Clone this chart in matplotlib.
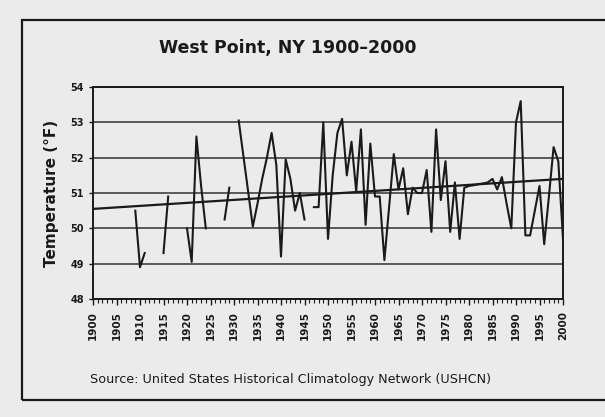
import numpy as np
import matplotlib
matplotlib.use("Agg")
import matplotlib.pyplot as plt
from matplotlib.patches import Rectangle
from matplotlib.ticker import MultipleLocator

# annual mean temperature (F); missing years = gaps
years = list(range(1900, 2001))
temps = {
    1909: 50.5, 1910: 48.9, 1911: 49.3,
    1915: 49.3, 1916: 50.9,
    1920: 50.0, 1921: 49.05, 1922: 52.6, 1923: 51.2, 1924: 50.0,
    1928: 50.25, 1929: 51.15,
    1931: 53.05, 1932: 52.05, 1933: 51.05, 1934: 50.05, 1935: 50.7,
    1936: 51.4, 1937: 52.0, 1938: 52.7, 1939: 51.8, 1940: 49.2,
    1941: 51.95, 1942: 51.4, 1943: 50.5, 1944: 51.0, 1945: 50.25,
    1947: 50.6, 1948: 50.6, 1949: 53.0, 1950: 49.7, 1951: 51.5,
    1952: 52.7, 1953: 53.1, 1954: 51.5, 1955: 52.45, 1956: 51.05,
    1957: 52.8, 1958: 50.1, 1959: 52.4, 1960: 50.9, 1961: 50.9,
    1962: 49.1, 1963: 50.6, 1964: 52.1, 1965: 51.1, 1966: 51.7,
    1967: 50.4, 1968: 51.15, 1969: 51.0, 1970: 51.0, 1971: 51.65,
    1972: 49.9, 1973: 52.8, 1974: 50.8, 1975: 51.9, 1976: 49.9,
    1977: 51.3, 1978: 49.7, 1979: 51.15, 1980: 51.2, 1981: 51.22,
    1982: 51.25, 1983: 51.27, 1984: 51.3, 1985: 51.4, 1986: 51.1,
    1987: 51.45, 1988: 50.7, 1989: 50.0, 1990: 53.0, 1991: 53.6,
    1992: 49.8, 1993: 49.8, 1994: 50.5, 1995: 51.2, 1996: 49.55,
    1997: 50.9, 1998: 52.3, 1999: 51.9, 2000: 49.7,
}
trend_years = [1900, 2000]
trend_temps = [50.55, 51.4]

y = np.array([temps.get(yr, np.nan) for yr in years])

paper = '#ecebec'
ink = '#1a1a1a'

fig = plt.figure(figsize=(6.05, 4.17), dpi=100, facecolor=paper)

# outer box around the whole graphic
fig.patches.append(Rectangle((22 / 605, 1 - 400 / 417), 600 / 605, 380 / 417,
                             transform=fig.transFigure, fill=False,
                             edgecolor=ink, linewidth=1.6))

ax = fig.add_axes([93 / 605, 1 - 299 / 417, 470 / 605, 212 / 417])
ax.set_facecolor(paper)

ax.plot(years, y, color=ink, linewidth=1.5, zorder=3)
ax.plot(trend_years, trend_temps, color=ink, linewidth=1.6, zorder=3)

ax.set_xlim(1900, 2000)
ax.set_ylim(48, 54)
ax.set_yticks(range(48, 55))
ax.set_xticks(range(1900, 2001, 5))
ax.xaxis.set_minor_locator(MultipleLocator(1))
ax.grid(axis='y', color='#333333', linewidth=1.1, zorder=1)

for s in ax.spines.values():
    s.set_color(ink)
    s.set_linewidth(1.4)

ax.tick_params(axis='x', which='major', rotation=90, labelsize=7.5,
               length=4, width=1, color=ink, labelcolor=ink, pad=5)
ax.tick_params(axis='x', which='minor', length=3, width=0.8, color=ink)
ax.tick_params(axis='y', labelsize=7, length=3, width=1, color=ink,
               labelcolor=ink)
for lab in ax.get_xticklabels() + ax.get_yticklabels():
    lab.set_fontweight('bold')

ax.set_ylabel('Temperature (°F)', fontsize=11, fontweight='bold', color=ink,
              labelpad=8)

fig.text(288 / 605, 1 - 48 / 417, 'West Point, NY 1900–2000', ha='center',
         va='center', fontsize=12.5, fontweight='bold', color=ink)
fig.text(90 / 605, 1 - 379 / 417,
         'Source: United States Historical Climatology Network (USHCN)',
         ha='left', va='center', fontsize=9.2, color=ink)

fig.savefig('out.png', dpi=100, facecolor=paper)
